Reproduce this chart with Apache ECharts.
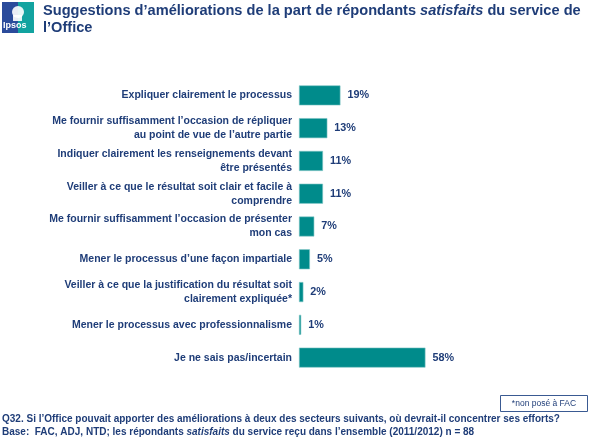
<!DOCTYPE html>
<html><head><meta charset="utf-8">
<script src="https://cdn.jsdelivr.net/npm/echarts@6/dist/echarts.min.js"></script>
<style>html,body{margin:0;padding:0;background:#fff}#c{width:590px;height:445px}</style>
</head><body><div id="c"></div>
<script>
const categories = [
  "Expliquer clairement le processus",
  "Me fournir suffisamment l\u2019occasion de répliquer\nau point de vue de l\u2019autre partie",
  "Indiquer clairement les renseignements devant\nêtre présentés",
  "Veiller à ce que le résultat soit clair et facile à\ncomprendre",
  "Me fournir suffisamment l\u2019occasion de présenter\nmon cas",
  "Mener le processus d\u2019une façon impartiale",
  "Veiller à ce que la justification du résultat soit\nclairement expliquée*",
  "Mener le processus avec professionnalisme",
  "Je ne sais pas/incertain"
];
const values = [19, 13, 11, 11, 7, 5, 2, 1, 58];

const navy = '#1F3D78';
const teal = '#008B8B';
const FONT = 'Liberation Sans';

const chart = echarts.init(document.getElementById('c'));
chart.setOption({
  animation: false,
  textStyle: { fontFamily: FONT },
  grid: { left: 299, right: 73, top: 79, bottom: 71, containLabel: false },
  xAxis: { type: 'value', min: 0, max: 100, show: false },
  yAxis: {
    type: 'category', inverse: true, data: categories,
    axisLine: { show: false }, axisTick: { show: false },
    axisLabel: { margin: 7, color: navy, fontWeight: 'bold', fontSize: 10.5, lineHeight: 14, align: 'right', fontFamily: FONT }
  },
  series: [{
    type: 'bar', data: values, barWidth: 20,
    itemStyle: { color: teal, borderColor: '#7CC4C4', borderWidth: 0.6 },
    label: { show: true, position: 'right', distance: 7, formatter: '{c}%', color: navy, fontWeight: 'bold', fontSize: 10.8, fontFamily: FONT }
  }],
  graphic: [
    { type: 'rect', shape: { x: 2, y: 2, width: 16, height: 31 }, style: { fill: '#2B4B9B' } },
    { type: 'rect', shape: { x: 18, y: 2, width: 16, height: 31 }, style: { fill: '#12A3A0' } },
    { type: 'circle', shape: { cx: 18, cy: 12, r: 6 }, style: { fill: '#ffffff', opacity: 0.9 } },
    { type: 'rect', shape: { x: 13, y: 15, width: 9, height: 6 }, style: { fill: '#ffffff', opacity: 0.9 } },
    { type: 'text', left: 3, top: 21, style: { text: 'Ipsos', fill: '#fff', font: 'bold 9px ' + FONT } },
    { type: 'text', left: 43, top: 3, style: {
      text: '{a|Suggestions d\u2019améliorations de la part de répondants }{i|satisfaits}{a| du service de}\n{a|l\u2019Office}',
      rich: {
        a: { fontFamily: FONT, fontWeight: 'bold', fontSize: 14.6, fill: navy, lineHeight: 17 },
        i: { fontFamily: FONT, fontWeight: 'bold', fontStyle: 'italic', fontSize: 14.6, fill: navy, lineHeight: 17 }
      }
    } },
    { type: 'rect', shape: { x: 500.5, y: 395.5, width: 87, height: 16 }, style: { fill: '#fff', stroke: '#3A5A92', lineWidth: 1 } },
    { type: 'text', x: 544, y: 404, style: { text: '*non posé à FAC', fill: navy, font: '8.5px ' + FONT, align: 'center', verticalAlign: 'middle' } },
    { type: 'text', left: 2, top: 414, style: {
      text: '{a|Q32. Si l\u2019Office pouvait apporter des améliorations à deux des secteurs suivants, où devrait-il concentrer ses efforts?}\n{a|Base:  FAC, ADJ, NTD; les répondants }{i|satisfaits}{a| du service reçu dans l\u2019ensemble (2011/2012) n = 88}',
      rich: {
        a: { fontFamily: FONT, fontWeight: 'bold', fontSize: 10, fill: navy, lineHeight: 13 },
        i: { fontFamily: FONT, fontWeight: 'bold', fontStyle: 'italic', fontSize: 10, fill: navy, lineHeight: 13 }
      }
    } }
  ]
});
</script></body></html>
